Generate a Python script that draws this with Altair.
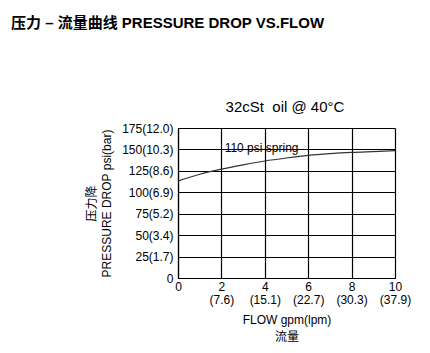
import altair as alt
import pandas as pd

flow_gpm = [0, 1, 2, 3, 4, 5, 6, 7, 8, 9, 10]
pressure_psi = [113, 121, 127, 132, 136.5, 140, 143, 145, 146.5, 147.5, 148.5]

x_ticks = [0, 2, 4, 6, 8, 10]
x_lpm = ["", "(7.6)", "(15.1)", "(22.7)", "(30.3)", "(37.9)"]
y_ticks = [0, 25, 50, 75, 100, 125, 150, 175]
y_bar = ["", "(1.7)", "(3.4)", "(5.2)", "(6.9)", "(8.6)", "(10.3)", "(12.0)"]

FONT = "Liberation Sans, Arial, Noto Sans CJK SC"

df = pd.DataFrame({"flow": flow_gpm, "psi": pressure_psi})

x_expr = " : ".join(
    f"datum.value == {v} ? ['{v}', '{l}']" for v, l in zip(x_ticks, x_lpm) if l
) + " : datum.label"
y_expr = " : ".join(
    f"datum.value == {v} ? '{v}{l}'" for v, l in zip(y_ticks, y_bar)
) + " : datum.label"

x_enc = alt.X(
    "flow:Q",
    scale=alt.Scale(domain=[0, 10], nice=False),
    axis=alt.Axis(
        values=x_ticks, labelExpr=x_expr, ticks=False, grid=True,
        gridColor="black", gridOpacity=1, gridWidth=1.2,
        domainColor="black", domainWidth=1.2,
        labelFont=FONT, labelFontSize=12, labelColor="black", labelPadding=3,
        labelLineHeight=13, labelAngle=0, labelOverlap=False, labelFlush=False,
        title=["FLOW gpm(lpm)", "流量"], titleFont=FONT, titleFontSize=12,
        titleFontWeight="normal", titleColor="black", titlePadding=9,
        titleLineHeight=17,
    ),
)
y_enc = alt.Y(
    "psi:Q",
    scale=alt.Scale(domain=[0, 175], nice=False),
    axis=alt.Axis(
        values=y_ticks, labelExpr=y_expr, ticks=False, grid=True,
        gridColor="black", gridOpacity=1, gridWidth=1.2,
        domainColor="black", domainWidth=1.2,
        labelFont=FONT, labelFontSize=12, labelColor="black", labelPadding=5,
        labelOverlap=False, labelFlush=False,
        title=["压力降", "PRESSURE DROP psi(bar)"], titleFont=FONT, titleFontSize=12,
        titleFontWeight="normal", titleColor="black", titlePadding=8,
        titleLineHeight=15,
    ),
)

line = alt.Chart(df).mark_line(color="#333333", strokeWidth=1.2, interpolate="monotone").encode(
    x=x_enc, y=y_enc
)

spring = alt.Chart(pd.DataFrame({"flow": [2.15], "psi": [152], "t": ["110 psi spring"]})).mark_text(
    align="left", baseline="middle", font=FONT, fontSize=12, color="black"
).encode(x=x_enc, y=y_enc, text="t:N")

header = alt.Chart(pd.DataFrame({"t": ["压力 – 流量曲线 PRESSURE DROP VS.FLOW"]})).mark_text(
    align="left", baseline="alphabetic", font=FONT, fontSize=15, fontWeight="bold", color="black"
).encode(x=alt.value(-167), y=alt.value(-100), text="t:N")

subtitle = alt.Chart(pd.DataFrame({"t": ["32cSt\u00a0 oil @ 40°C"]})).mark_text(
    align="center", baseline="alphabetic", font=FONT, fontSize=15, color="black"
).encode(x=alt.value(107), y=alt.value(-16), text="t:N")

chart = alt.layer(line, spring, header, subtitle).properties(
    width=217, height=150,
    padding={"left": 178, "top": 128, "right": 35, "bottom": 75},
    autosize=alt.AutoSizeParams(type="none"),
).configure_view(stroke="black", strokeWidth=1.2).configure(background="white")

chart.save("out.html", embed_options={"renderer": "svg", "actions": False})
